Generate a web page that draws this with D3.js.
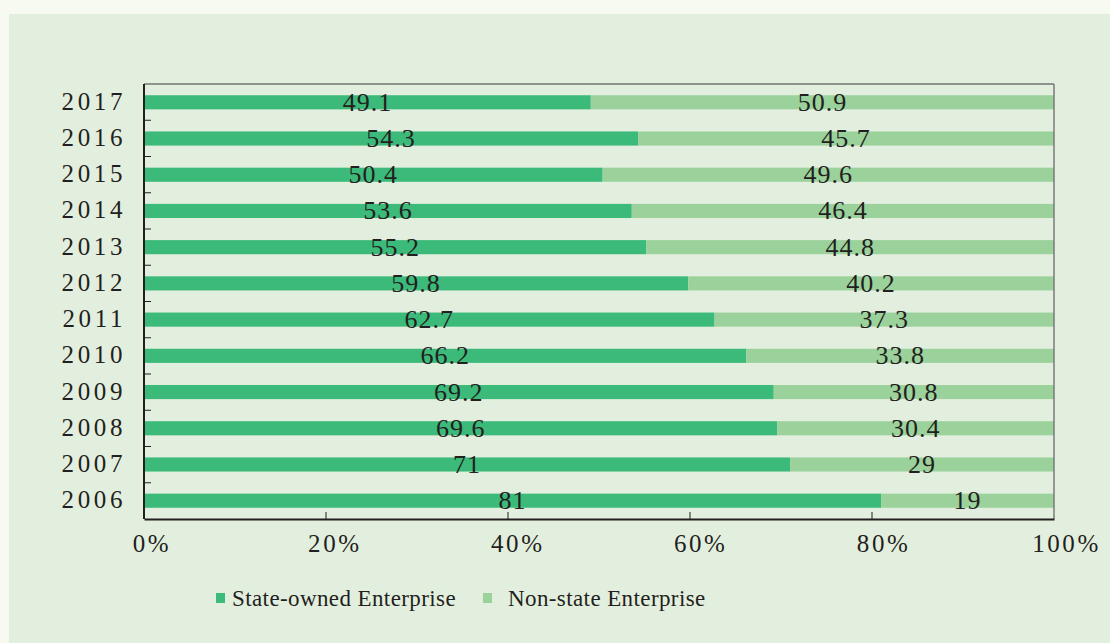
<!DOCTYPE html>
<html>
<head>
<meta charset="utf-8">
<script src="https://cdn.jsdelivr.net/npm/d3@7"></script>
<style>
  html, body { margin: 0; padding: 0; background: #f7faf0; }
  svg { display: block; }
</style>
</head>
<body>
<svg id="chart" width="1110" height="643"></svg>
<script>
// Share of enterprises by ownership, per year (percent)
const years = ["2017", "2016", "2015", "2014", "2013", "2012", "2011", "2010", "2009", "2008", "2007", "2006"];
const stateOwned = [49.1, 54.3, 50.4, 53.6, 55.2, 59.8, 62.7, 66.2, 69.2, 69.6, 71, 81];
const nonState = [50.9, 45.7, 49.6, 46.4, 44.8, 40.2, 37.3, 33.8, 30.8, 30.4, 29, 19];
const xTicks = [0, 20, 40, 60, 80, 100];
const seriesNames = ["State-owned Enterprise", "Non-state Enterprise"];
const seriesColors = ["#3cba7a", "#9bd29c"];

const FONT = '"Liberation Serif", "Times New Roman", Times, serif';
const INK = "#231f20";

const svg = d3.select("#chart");
const W = 1110, H = 643;
const margin = { left: 144, right: 56, top: 84, bottom: 124 };
const iw = W - margin.left - margin.right;
const ih = H - margin.top - margin.bottom;

// page and panel background
svg.append("rect").attr("x", 0).attr("y", 0).attr("width", W).attr("height", H).attr("fill", "#f7faf0");
svg.append("rect").attr("x", 9).attr("y", 14).attr("width", W - 9).attr("height", H - 14).attr("fill", "#e3efde");

const g = svg.append("g").attr("transform", `translate(${margin.left},${margin.top})`);

const x = d3.scaleLinear().domain([0, 100]).range([0, iw]);
const y = d3.scaleBand().domain(years).range([0, ih]).paddingInner(0.61).paddingOuter(0.31);

const rows = years.map((yr, i) => ({ year: yr, vals: [stateOwned[i], nonState[i]] }));

// stacked bars with centred value labels
rows.forEach(r => {
  let acc = 0;
  r.vals.forEach((v, k) => {
    g.append("rect")
      .attr("x", x(acc))
      .attr("y", y(r.year))
      .attr("width", x(acc + v) - x(acc))
      .attr("height", y.bandwidth())
      .attr("fill", seriesColors[k]);
    g.append("text")
      .attr("x", x(acc + v / 2))
      .attr("y", y(r.year) + y.bandwidth() / 2 + 8.5)
      .attr("text-anchor", "middle")
      .attr("fill", INK)
      .style("font-family", FONT)
      .style("font-size", "26px")
      .style("letter-spacing", "1px")
      .text(v);
    acc += v;
  });
});

// frame: top and right edges
g.append("line").attr("x1", 0).attr("x2", iw).attr("y1", 0).attr("y2", 0).attr("stroke", "#3a3a3a").attr("stroke-width", 1.2);
g.append("line").attr("x1", iw).attr("x2", iw).attr("y1", 0).attr("y2", ih).attr("stroke", "#7a7a7a").attr("stroke-width", 1.5);

// left axis with ticks at band boundaries
const step = ih / years.length;
g.append("line").attr("x1", 0).attr("x2", 0).attr("y1", 0).attr("y2", ih).attr("stroke", INK).attr("stroke-width", 2);
d3.range(1, years.length).forEach(i => {
  g.append("line").attr("x1", 0).attr("x2", 7).attr("y1", i * step).attr("y2", i * step)
    .attr("stroke", INK).attr("stroke-width", 1);
});
years.forEach(yr => {
  g.append("text")
    .attr("x", -18)
    .attr("y", y(yr) + y.bandwidth() / 2 + 7.5)
    .attr("text-anchor", "end")
    .attr("fill", INK)
    .style("font-family", FONT)
    .style("font-size", "25px")
    .style("letter-spacing", "3.6px")
    .text(yr);
});

// bottom axis
const xAxis = d3.axisBottom(x).tickValues(xTicks).tickSize(0).tickFormat(d => d + "%");
const ax = g.append("g").attr("transform", `translate(0,${ih})`).call(xAxis);
ax.attr("font-family", null).attr("font-size", null);
ax.select(".domain").attr("stroke", INK).attr("stroke-width", 2);
ax.selectAll("text")
  .attr("y", 33).attr("dy", 0)
  .attr("dx", d => 7.5 + 4.5 * d / 100)
  .attr("fill", INK)
  .style("font-family", FONT)
  .style("font-size", "25px")
  .style("letter-spacing", "2.6px");
xTicks.slice(1, -1).forEach(t => {
  g.append("line").attr("x1", x(t)).attr("x2", x(t)).attr("y1", ih).attr("y2", ih - 7)
    .attr("stroke", INK).attr("stroke-width", 1);
});

// legend
const legendItems = [
  { name: seriesNames[0], color: seriesColors[0], sx: 216, tx: 232 },
  { name: seriesNames[1], color: seriesColors[1], sx: 483, tx: 508 }
];
legendItems.forEach(it => {
  svg.append("rect").attr("x", it.sx).attr("y", 593).attr("width", 9).attr("height", 10).attr("fill", it.color);
  svg.append("text").attr("x", it.tx).attr("y", 606)
    .attr("fill", INK)
    .style("font-family", FONT)
    .style("font-size", "23px")
    .style("letter-spacing", "0.4px")
    .text(it.name);
});
</script>
</body>
</html>
